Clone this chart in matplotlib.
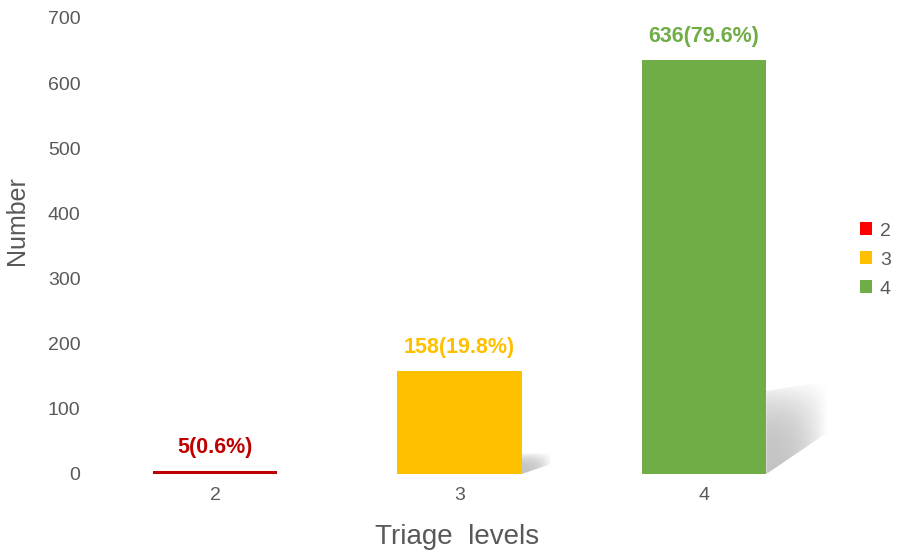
import numpy as np
import matplotlib.pyplot as plt
from matplotlib.patches import Patch, Polygon

plt.rcParams['font.family'] = ['Liberation Sans', 'DejaVu Sans']

levels = [2, 3, 4]
counts = [5, 158, 636]
labels = ['5(0.6%)', '158(19.8%)', '636(79.6%)']
bar_colors = ['#C00000', '#FFC000', '#70AD47']
text_colors = ['#C00000', '#FFC000', '#70AD47']
legend_colors = ['#FF0000', '#FFC000', '#70AD47']

gray = '#595959'
width = 0.51

fig = plt.figure(figsize=(8.97, 5.58), dpi=100)
ax = fig.add_axes([100 / 897, 84 / 558, 760 / 897, 456 / 558])

bars = ax.bar(levels, counts, width=width, color=bar_colors, zorder=3)

# soft drop shadow to the right of the taller bars
for b, h in zip(bars, counts):
    if h < 50:
        continue
    xr = b.get_x() + b.get_width()
    w = 0.08 + 0.17 * h / max(counts)
    top_l = 0.2 * h
    top_r = top_l + 0.1 * h * w
    bot_r = 0.1 * h
    ny, nx = 60, 60
    u = np.linspace(0, 1, nx)[None, :]
    v = np.linspace(0, 1, ny)[:, None]
    alpha = 0.42 * (1 - u ** 2.5) * (1 - v ** 3)
    img = np.zeros((ny, nx, 4))
    img[..., :3] = 0.45
    img[..., 3] = alpha
    im = ax.imshow(img, extent=[xr, xr + w, 0, top_r], origin='lower',
                   aspect='auto', zorder=2, interpolation='bilinear')
    poly = Polygon([(xr, 0), (xr, top_l), (xr + w, top_r), (xr + w, bot_r)],
                   closed=True, transform=ax.transData, facecolor='none',
                   edgecolor='none')
    ax.add_patch(poly)
    im.set_clip_path(poly)

for x, h, lab, c in zip(levels, counts, labels, text_colors):
    ax.annotate(lab, (x, h), xytext=(0, 17), textcoords='offset points',
                ha='center', va='center', color=c, fontsize=15.5,
                fontweight='bold', zorder=4)

ax.set_xlim(2 - 115 / 244.5, 2 + 645 / 244.5)
ax.set_ylim(0, 700)
ax.set_xticks(levels)
ax.set_yticks(range(0, 701, 100))
ax.tick_params(length=0, labelsize=14, labelcolor=gray)
ax.tick_params(axis='y', pad=14)
ax.tick_params(axis='x', pad=9)
for s in ax.spines.values():
    s.set_visible(False)

ax.set_xlabel('Triage  levels', fontsize=20, color=gray)
ax.xaxis.set_label_coords((457 - 100) / 760, -(537 - 474) / 456)
ax.set_ylabel('Number', fontsize=18, color=gray)
ax.yaxis.set_label_coords(-(100 - 17) / 760, (474 - 221) / 456)
ax.yaxis.label.set_va('center')
ax.xaxis.label.set_va('center')

handles = [Patch(facecolor=c, edgecolor='none') for c in legend_colors]
fig.legend(handles, [str(l) for l in levels], loc='center left',
           bbox_to_anchor=(842 / 897, 1 - 260 / 558), frameon=False,
           fontsize=14, labelcolor=gray, handlelength=0.65, handleheight=0.65,
           handletextpad=0.4, labelspacing=0.6)

fig.savefig('out.png', dpi=100)
